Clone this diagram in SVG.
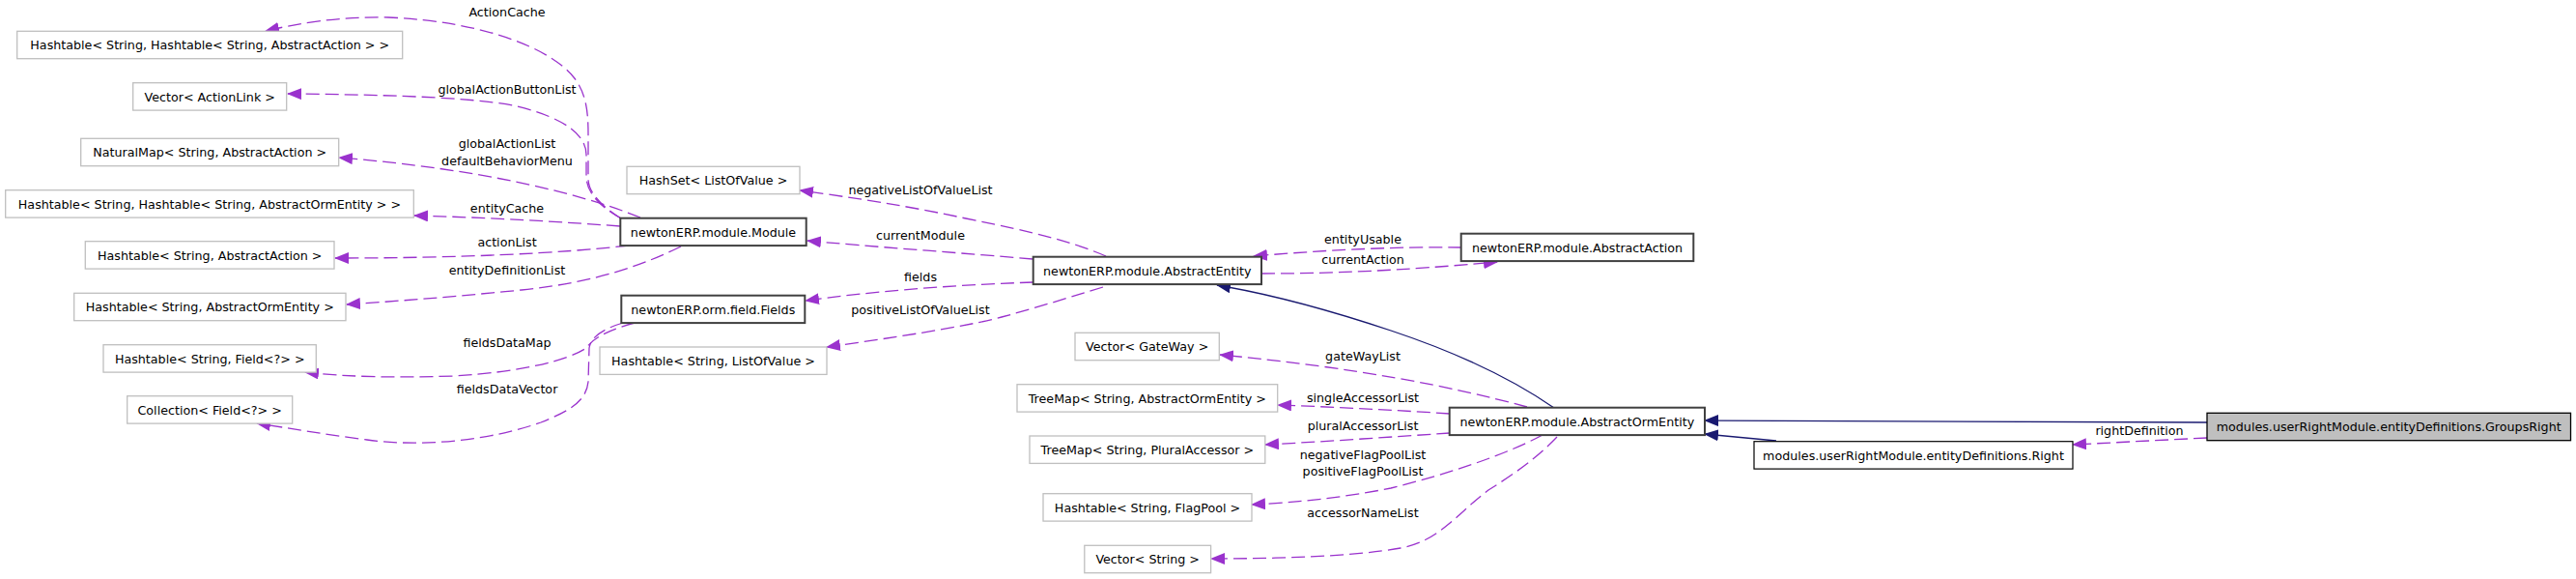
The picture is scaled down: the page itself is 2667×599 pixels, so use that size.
<svg xmlns="http://www.w3.org/2000/svg" width="2667" height="599" viewBox="0 0 2667 599">
<style>
text{font-family:"DejaVu Sans","Liberation Sans",sans-serif;font-size:12.7px;fill:#000}
.b text,.d text,.g text{text-anchor:middle}
.b rect{fill:#fff;stroke:#bfbfbf;stroke-width:1.3}
.d rect{fill:#fff;stroke:#404040;stroke-width:2}
.g rect{fill:#bfbfbf;stroke:#000;stroke-width:1.3}
.r rect{fill:#fff;stroke:#000;stroke-width:1.2}
.e{fill:none;stroke:#9a32cd;stroke-width:1.3;stroke-dasharray:14,6;marker-end:url(#ap)}
.i{fill:none;stroke:#191970;stroke-width:1.3;marker-end:url(#an)}
.l{text-anchor:middle}
</style>
<defs>
<marker id="ap" viewBox="0 0 15 12" refX="14" refY="6" markerWidth="15" markerHeight="12" markerUnits="userSpaceOnUse" orient="auto"><path d="M0,0 L15,6 L0,12 Z" fill="#9a32cd"/></marker>
<marker id="an" viewBox="0 0 15 12" refX="14" refY="6" markerWidth="15" markerHeight="12" markerUnits="userSpaceOnUse" orient="auto"><path d="M0,0 L15,6 L0,12 Z" fill="#191970"/></marker>
</defs>
<rect width="2667" height="599" fill="#fff"/>
<g id="edges">
<path class="e" d="M643,226 C625,215 609,200 609,185 L609,150 C609,125 610,100 594,80 C570,50 500,22 402,18 C350,17 310,24 275,32"/>
<path class="e" d="M643,226 C622,214 607,200 607,182 L607,160 C607,140 585,122 535,110 C500,102 420,98 298,97"/>
<path class="e" d="M663,225 C600,200 500,175 351,163"/>
<path class="e" d="M642,234 C560,228 500,225 429,223"/>
<path class="e" d="M651,254 C580,262 480,267 347,267"/>
<path class="e" d="M705,255 C670,272 620,292 540,300 C480,306 420,311 359,315"/>
<path class="e" d="M657,334 C635,340 615,348 607,360 C590,372 540,385 470,389 C410,391 360,390 316,385"/>
<path class="e" d="M645,334 C625,340 612,348 610,360 L609,395 C607,415 590,425 560,437 C500,458 430,462 380,455 C340,450 300,443 266,438"/>
<path class="e" d="M1145,265 C1110,250 1070,240 1000,226 C940,213 880,204 828,197"/>
<path class="e" d="M1069,268 C1000,262 900,255 836,249"/>
<path class="e" d="M1070,292 C980,295 900,302 834,311"/>
<path class="e" d="M1142,297 C1100,310 1060,322 1037,328 C1000,338 920,350 856,359"/>
<path class="e" d="M1513,256 C1450,255 1380,258 1298,265"/>
<path class="e" d="M1306,283 C1380,283 1450,280 1550,271"/>
<path class="i" d="M1609,422 C1560,388 1500,362 1440,342 C1380,322 1320,305 1260,295"/>
<path class="e" d="M1581,421 C1500,399 1400,380 1263,367"/>
<path class="e" d="M1501,428 C1440,424 1380,421 1323,419"/>
<path class="e" d="M1501,448 C1440,452 1370,457 1310,460"/>
<path class="e" d="M1597,450 C1560,470 1500,490 1440,505 C1390,515 1340,520 1296,522"/>
<path class="e" d="M1612,452 C1590,475 1565,492 1541,507 C1510,530 1490,560 1450,567 C1400,576 1320,578 1254,578"/>
<path class="i" d="M2285,437 L1765,435"/>
<path class="i" d="M1839,456 L1765,449"/>
<path class="e" d="M2285,453 L2146,460"/>
</g>
<g id="labels">
<text class="l" x="525" y="17.3">ActionCache</text>
<text class="l" x="525" y="97.3">globalActionButtonList</text>
<text class="l" x="525" y="153">globalActionList</text>
<text class="l" x="525" y="171">defaultBehaviorMenu</text>
<text class="l" x="525" y="220.3">entityCache</text>
<text class="l" x="525" y="255.3">actionList</text>
<text class="l" x="525" y="284">entityDefinitionList</text>
<text class="l" x="525" y="359">fieldsDataMap</text>
<text class="l" x="525" y="407">fieldsDataVector</text>
<text class="l" x="953" y="200.7">negativeListOfValueList</text>
<text class="l" x="953" y="248.3">currentModule</text>
<text class="l" x="953" y="290.7">fields</text>
<text class="l" x="953" y="325">positiveListOfValueList</text>
<text class="l" x="1411" y="251.9">entityUsable</text>
<text class="l" x="1411" y="273.3">currentAction</text>
<text class="l" x="1411" y="373.3">gateWayList</text>
<text class="l" x="1411" y="416.3">singleAccessorList</text>
<text class="l" x="1411" y="445.3">pluralAccessorList</text>
<text class="l" x="1411" y="475.3">negativeFlagPoolList</text>
<text class="l" x="1411" y="492.3">positiveFlagPoolList</text>
<text class="l" x="1411" y="535.3">accessorNameList</text>
<text class="l" x="2215" y="449.6">rightDefinition</text>
</g>
<g id="n_ht_ht_aa" class="b"><rect x="17.7" y="32.3" width="399" height="28.4"/><text x="217.2" y="51.1">Hashtable&lt; String, Hashtable&lt; String, AbstractAction &gt; &gt;</text></g>
<g id="n_vec_actionlink" class="b"><rect x="137.7" y="85.7" width="159" height="28.4"/><text x="217.2" y="104.5">Vector&lt; ActionLink &gt;</text></g>
<g id="n_naturalmap" class="b"><rect x="83.7" y="143.3" width="267" height="28.4"/><text x="217.2" y="162.1">NaturalMap&lt; String, AbstractAction &gt;</text></g>
<g id="n_ht_ht_aoe" class="b"><rect x="5.7" y="196.7" width="422.6" height="28.4"/><text x="217" y="215.5">Hashtable&lt; String, Hashtable&lt; String, AbstractOrmEntity &gt; &gt;</text></g>
<g id="n_ht_aa" class="b"><rect x="88.3" y="249.7" width="257.7" height="28.4"/><text x="217.2" y="268.5">Hashtable&lt; String, AbstractAction &gt;</text></g>
<g id="n_ht_aoe" class="b"><rect x="76.7" y="303.3" width="281.3" height="28.4"/><text x="217.3" y="322.1">Hashtable&lt; String, AbstractOrmEntity &gt;</text></g>
<g id="n_ht_field" class="b"><rect x="107" y="356.7" width="220.3" height="28.4"/><text x="217.2" y="375.5">Hashtable&lt; String, Field&lt;?&gt; &gt;</text></g>
<g id="n_collection" class="b"><rect x="131.7" y="409.7" width="171" height="28.4"/><text x="217.2" y="428.5">Collection&lt; Field&lt;?&gt; &gt;</text></g>
<g id="n_module" class="d"><rect x="642.3" y="225.7" width="192.4" height="28.4"/><text x="738.5" y="244.5">newtonERP.module.Module</text></g>
<g id="n_hashset" class="b"><rect x="649" y="172.3" width="179" height="28.4"/><text x="738.5" y="191.1">HashSet&lt; ListOfValue &gt;</text></g>
<g id="n_fields" class="d"><rect x="643.3" y="305.7" width="190" height="28.4"/><text x="738.3" y="324.5">newtonERP.orm.field.Fields</text></g>
<g id="n_ht_lov" class="b"><rect x="621" y="359" width="235" height="28.4"/><text x="738.5" y="377.8">Hashtable&lt; String, ListOfValue &gt;</text></g>
<g id="n_abstractentity" class="d"><rect x="1069.7" y="265.7" width="236.3" height="28.4"/><text x="1187.8" y="284.5">newtonERP.module.AbstractEntity</text></g>
<g id="n_abstractaction" class="d"><rect x="1512.7" y="241.7" width="240.6" height="28.4"/><text x="1633" y="260.5">newtonERP.module.AbstractAction</text></g>
<g id="n_vec_gateway" class="b"><rect x="1113" y="344.3" width="149.3" height="28.4"/><text x="1187.7" y="363.1">Vector&lt; GateWay &gt;</text></g>
<g id="n_tm_aoe" class="b"><rect x="1053" y="397.7" width="269.7" height="28.4"/><text x="1187.8" y="416.5">TreeMap&lt; String, AbstractOrmEntity &gt;</text></g>
<g id="n_tm_pa" class="b"><rect x="1066" y="451" width="243.8" height="28.4"/><text x="1187.9" y="469.8">TreeMap&lt; String, PluralAccessor &gt;</text></g>
<g id="n_ht_fp" class="b"><rect x="1080" y="510.7" width="216" height="28.4"/><text x="1188" y="529.5">Hashtable&lt; String, FlagPool &gt;</text></g>
<g id="n_vec_string" class="b"><rect x="1122.8" y="564.3" width="130.8" height="28.4"/><text x="1188.2" y="583.1">Vector&lt; String &gt;</text></g>
<g id="n_aoe" class="d"><rect x="1500.7" y="421.7" width="264.3" height="28.4"/><text x="1632.8" y="440.5">newtonERP.module.AbstractOrmEntity</text></g>
<g id="n_right" class="b r"><rect x="1816" y="456.7" width="330" height="28.4"/><text x="1981" y="475.5">modules.userRightModule.entityDefinitions.Right</text></g>
<g id="n_groupsright" class="g"><rect x="2285" y="427.3" width="376.5" height="28.4"/><text x="2473.2" y="446.1">modules.userRightModule.entityDefinitions.GroupsRight</text></g>
</svg>
